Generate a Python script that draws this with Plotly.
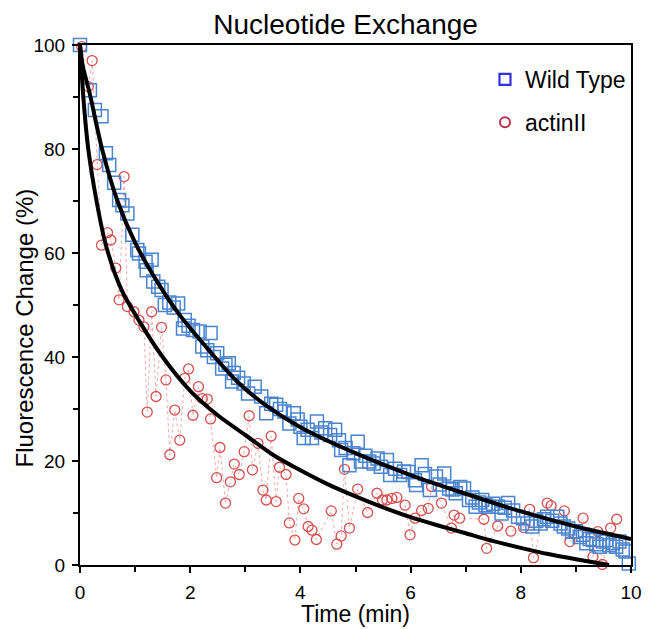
import plotly.graph_objects as go

# ---- data ----
wt_time = [0, 0.18, 0.27, 0.39, 0.47, 0.53, 0.62, 0.71, 0.77, 0.86, 0.95, 1.04, 1.07, 1.19, 1.21,
           1.3, 1.33, 1.42, 1.48, 1.54, 1.62, 1.7, 1.78, 1.87, 1.9, 1.97, 2.05, 2.17, 2.22, 2.31,
           2.37, 2.43, 2.49, 2.58, 2.64, 2.7, 2.76, 2.79, 2.87, 2.97, 3.05, 3.17, 3.29, 3.38, 3.47,
           3.56, 3.63, 3.71, 3.8, 3.88, 3.95, 4.0, 4.06, 4.13, 4.21, 4.3, 4.38, 4.45, 4.54, 4.63,
           4.7, 4.74, 4.82, 4.89, 4.96, 5.04, 5.1, 5.18, 5.25, 5.33, 5.4, 5.46, 5.57, 5.63, 5.72,
           5.81, 5.88, 5.96, 6.08, 6.1, 6.2, 6.26, 6.35, 6.46, 6.53, 6.61, 6.7, 6.76, 6.82, 6.9,
           6.97, 7.06, 7.12, 7.18, 7.24, 7.3, 7.36, 7.41, 7.5, 7.59, 7.65, 7.71, 7.77, 7.86, 7.95,
           8.04, 8.12, 8.21, 8.28, 8.36, 8.42, 8.48, 8.57, 8.66, 8.72, 8.78, 8.86, 8.93, 9.0, 9.07,
           9.13, 9.19, 9.25, 9.31, 9.37, 9.43, 9.49, 9.55, 9.61, 9.67, 9.73, 9.79, 9.85, 9.9, 9.96]
wt_signal = [100, 91.3, 87.5, 86.3, 79.2, 76.9, 73.5, 70.2, 69.2, 67.6, 63.5, 60.6, 59.9, 58.3, 56.7,
             58.7, 54.5, 53.5, 52.9, 50, 50.5, 49.5, 50.3, 45.5, 47.1, 46, 45.2, 44.9, 42, 41.3,
             44.6, 40, 40.7, 37.8, 38.5, 38.8, 35.3, 36.9, 36, 34.9, 33, 34.3, 32.4, 29.2, 31,
             30.8, 30, 29.5, 27.2, 29.2, 28, 26.6, 24.4, 26, 24.4, 27.6, 25.5, 26.3, 25, 26,
             24, 22.1, 22.5, 19.2, 21.5, 23.7, 19.9, 21, 19.9, 19.5, 20.5, 18.9, 20.2, 17.3, 18.5,
             17.3, 18, 17.9, 16.3, 15.4, 19.2, 17.5, 14.4, 17, 15.5, 17.6, 14.7, 14.5, 13.8, 15,
             14.7, 12.5, 13, 11.2, 12, 12.5, 11.5, 11.2, 11.8, 11.2, 9.9, 11, 11.9, 10.5, 9.3,
             9, 8, 7.4, 8.5, 8, 8.8, 9.3, 8.5, 9.3, 8, 7.4, 7, 6.4, 6.5, 5.4,
             5.8, 4.2, 5, 4.8, 4, 3.5, 4.5, 4.8, 3.8, 4.2, 3.5, 4.5, 3, 2.6, 0.3]

act_time = [0.03, 0.15, 0.22, 0.31, 0.39, 0.5, 0.56, 0.65, 0.71, 0.8, 0.86, 0.98, 1.07, 1.16, 1.22,
            1.3, 1.38, 1.48, 1.56, 1.63, 1.72, 1.81, 1.9, 1.97, 2.05, 2.15, 2.22, 2.31, 2.37, 2.48,
            2.54, 2.64, 2.73, 2.8, 2.89, 2.98, 3.07, 3.13, 3.23, 3.32, 3.38, 3.47, 3.56, 3.62, 3.74,
            3.8, 3.9, 3.97, 4.06, 4.14, 4.21, 4.29, 4.56, 4.66, 4.74, 4.8, 4.89, 5.04, 5.22, 5.39,
            5.49, 5.57, 5.66, 5.75, 5.9, 5.99, 6.08, 6.2, 6.32, 6.38, 6.56, 6.74, 6.79, 6.89, 7.33,
            7.38, 7.58, 7.82, 8.05, 8.16, 8.23, 8.48, 8.55, 8.79, 8.89, 9.13, 9.31, 9.4, 9.48, 9.63,
            9.74]
act_signal = [99.7, 92, 97, 77, 61.5, 63.9, 62.5, 57.1, 51, 74.7, 49.7, 48.7, 47.1, 45.8, 29.4,
              48.7, 32.4, 45.7, 35.6, 21.2, 29.8, 24, 35.9, 37.7, 28.8, 34.3, 32, 31.9, 28.1, 16.8,
              22.6, 11.9, 16, 19.4, 17.4, 21.8, 28.7, 18.3, 23.4, 14.4, 12.5, 24.8, 12.2, 18.8, 17.4,
              8.1, 4.8, 12.8, 10.8, 7.4, 6.7, 4.9, 10.4, 4.0, 5.6, 18.4, 7.1, 14.6, 10.1, 13.8,
              12.5, 12.5, 12.8, 13.0, 11.5, 5.8, 9.0, 10.5, 10.9, 15.1, 11.9, 7.1, 9.6, 9.0, 8.8,
              3.2, 7.5, 6.5, 7.2, 10.7, 1.4, 11.9, 11.4, 10.4, 4.5, 9.0, 1.6, 6.4, 0.1, 7.1,
              8.8]

wt_fit_time = [0, 0.05, 0.18, 0.4, 0.68, 1.0, 1.4, 1.8, 2.3, 2.85, 3.4, 4.0, 5.0, 6.0, 7.0, 8.0,
               9.0, 10.0]
wt_fit_signal = [100, 96, 90.5, 80, 70, 62, 54.5, 48.2, 41.8, 35.3, 30.5, 26.5, 21.5, 17.3, 13.7,
                 10.3, 7.4, 5]

act_fit_time = [0, 0.06, 0.15, 0.3, 0.47, 0.75, 1.07, 1.5, 2.0, 2.5, 3.0, 3.5, 4.0, 4.5, 5.0, 5.5,
                6.0, 6.5, 7.0, 7.5, 8.0, 8.5, 9.0, 9.6]
act_fit_signal = [100, 90, 80, 70, 61.5, 53, 47, 40, 33.5, 28.8, 25, 21.2, 18.2, 15.5, 13.2, 11.1,
                  9.2, 7.6, 6.1, 4.6, 3.3, 2.1, 1.1, 0]

FONT = "Liberation Sans, Arial, Helvetica, sans-serif"

fig = go.Figure()

fig.add_trace(go.Scatter(
    x=act_time, y=act_signal, mode="lines+markers", showlegend=False,
    line=dict(color="#f0a8a8", width=1, dash="dot"),
    marker=dict(symbol="circle-open", size=10, color="#d4504f", line=dict(width=1.3)),
    cliponaxis=False))

fig.add_trace(go.Scatter(
    x=wt_time, y=wt_signal, mode="markers", showlegend=False,
    marker=dict(symbol="square-open", size=13, color="#4a84cf", line=dict(width=1.5)),
    cliponaxis=False))

fig.add_trace(go.Scatter(
    x=wt_fit_time, y=wt_fit_signal, mode="lines", showlegend=False,
    line=dict(color="black", width=4, shape="spline", smoothing=0.8)))
fig.add_trace(go.Scatter(
    x=act_fit_time, y=act_fit_signal, mode="lines", showlegend=False,
    line=dict(color="black", width=4, shape="spline", smoothing=0.8)))

# legend-only entries
fig.add_trace(go.Scatter(
    x=[None], y=[None], mode="markers", name="Wild Type", legendgroup="a",
    marker=dict(symbol="square-open", size=11, color="#3030e0", line=dict(width=2.2))))
fig.add_trace(go.Scatter(
    x=[None], y=[None], mode="markers", name="actinII", legendgroup="b",
    marker=dict(symbol="circle-open", size=10, color="#b8304a", line=dict(width=2))))

axis_common = dict(
    showline=True, linecolor="black", linewidth=2, mirror=True,
    ticks="outside", ticklen=6, tickwidth=2, tickcolor="black",
    showgrid=False, zeroline=False, ticklabelstandoff=3,
    tickfont=dict(family=FONT, size=19, color="black"),
)

fig.update_xaxes(range=[0, 10], tickvals=[0, 2, 4, 6, 8, 10],
                 minor=dict(tickvals=[1, 3, 5, 7, 9], ticks="outside", ticklen=5,
                            tickwidth=2, tickcolor="black"),
                 **axis_common)
fig.update_yaxes(range=[0, 100], tickvals=[0, 20, 40, 60, 80, 100],
                 minor=dict(tickvals=[10, 30, 50, 70, 90], ticks="outside", ticklen=5,
                            tickwidth=2, tickcolor="black"),
                 **axis_common)

fig.add_annotation(text="Fluorescence Change (%)", xref="paper", yref="paper",
                   x=-0.1005, y=0.456, textangle=-90, showarrow=False,
                   xanchor="center", yanchor="middle",
                   font=dict(family=FONT, size=24, color="black"))
fig.add_annotation(text="Time (min)", xref="paper", yref="paper",
                   x=0.5, y=-0.094, showarrow=False,
                   xanchor="center", yanchor="middle",
                   font=dict(family=FONT, size=23, color="black"))

# the page body adds an 8px margin, so the figure is sized to fit the 651x629 window
fig.update_layout(
    width=643, height=621,
    margin=dict(l=72, r=9, t=37, b=64),
    paper_bgcolor="white", plot_bgcolor="white",
    title=dict(text="Nucleotide Exchange", x=0.482, xref="paper", xanchor="center",
               y=0.974, yref="container", yanchor="middle",
               font=dict(family=FONT, size=28, color="black")),
    legend=dict(x=0.735, y=0.975, xanchor="left", yanchor="top",
                font=dict(family=FONT, size=23, color="black"),
                bgcolor="rgba(0,0,0,0)", tracegroupgap=10, traceorder="grouped"),
)

fig.write_html("out.html")
